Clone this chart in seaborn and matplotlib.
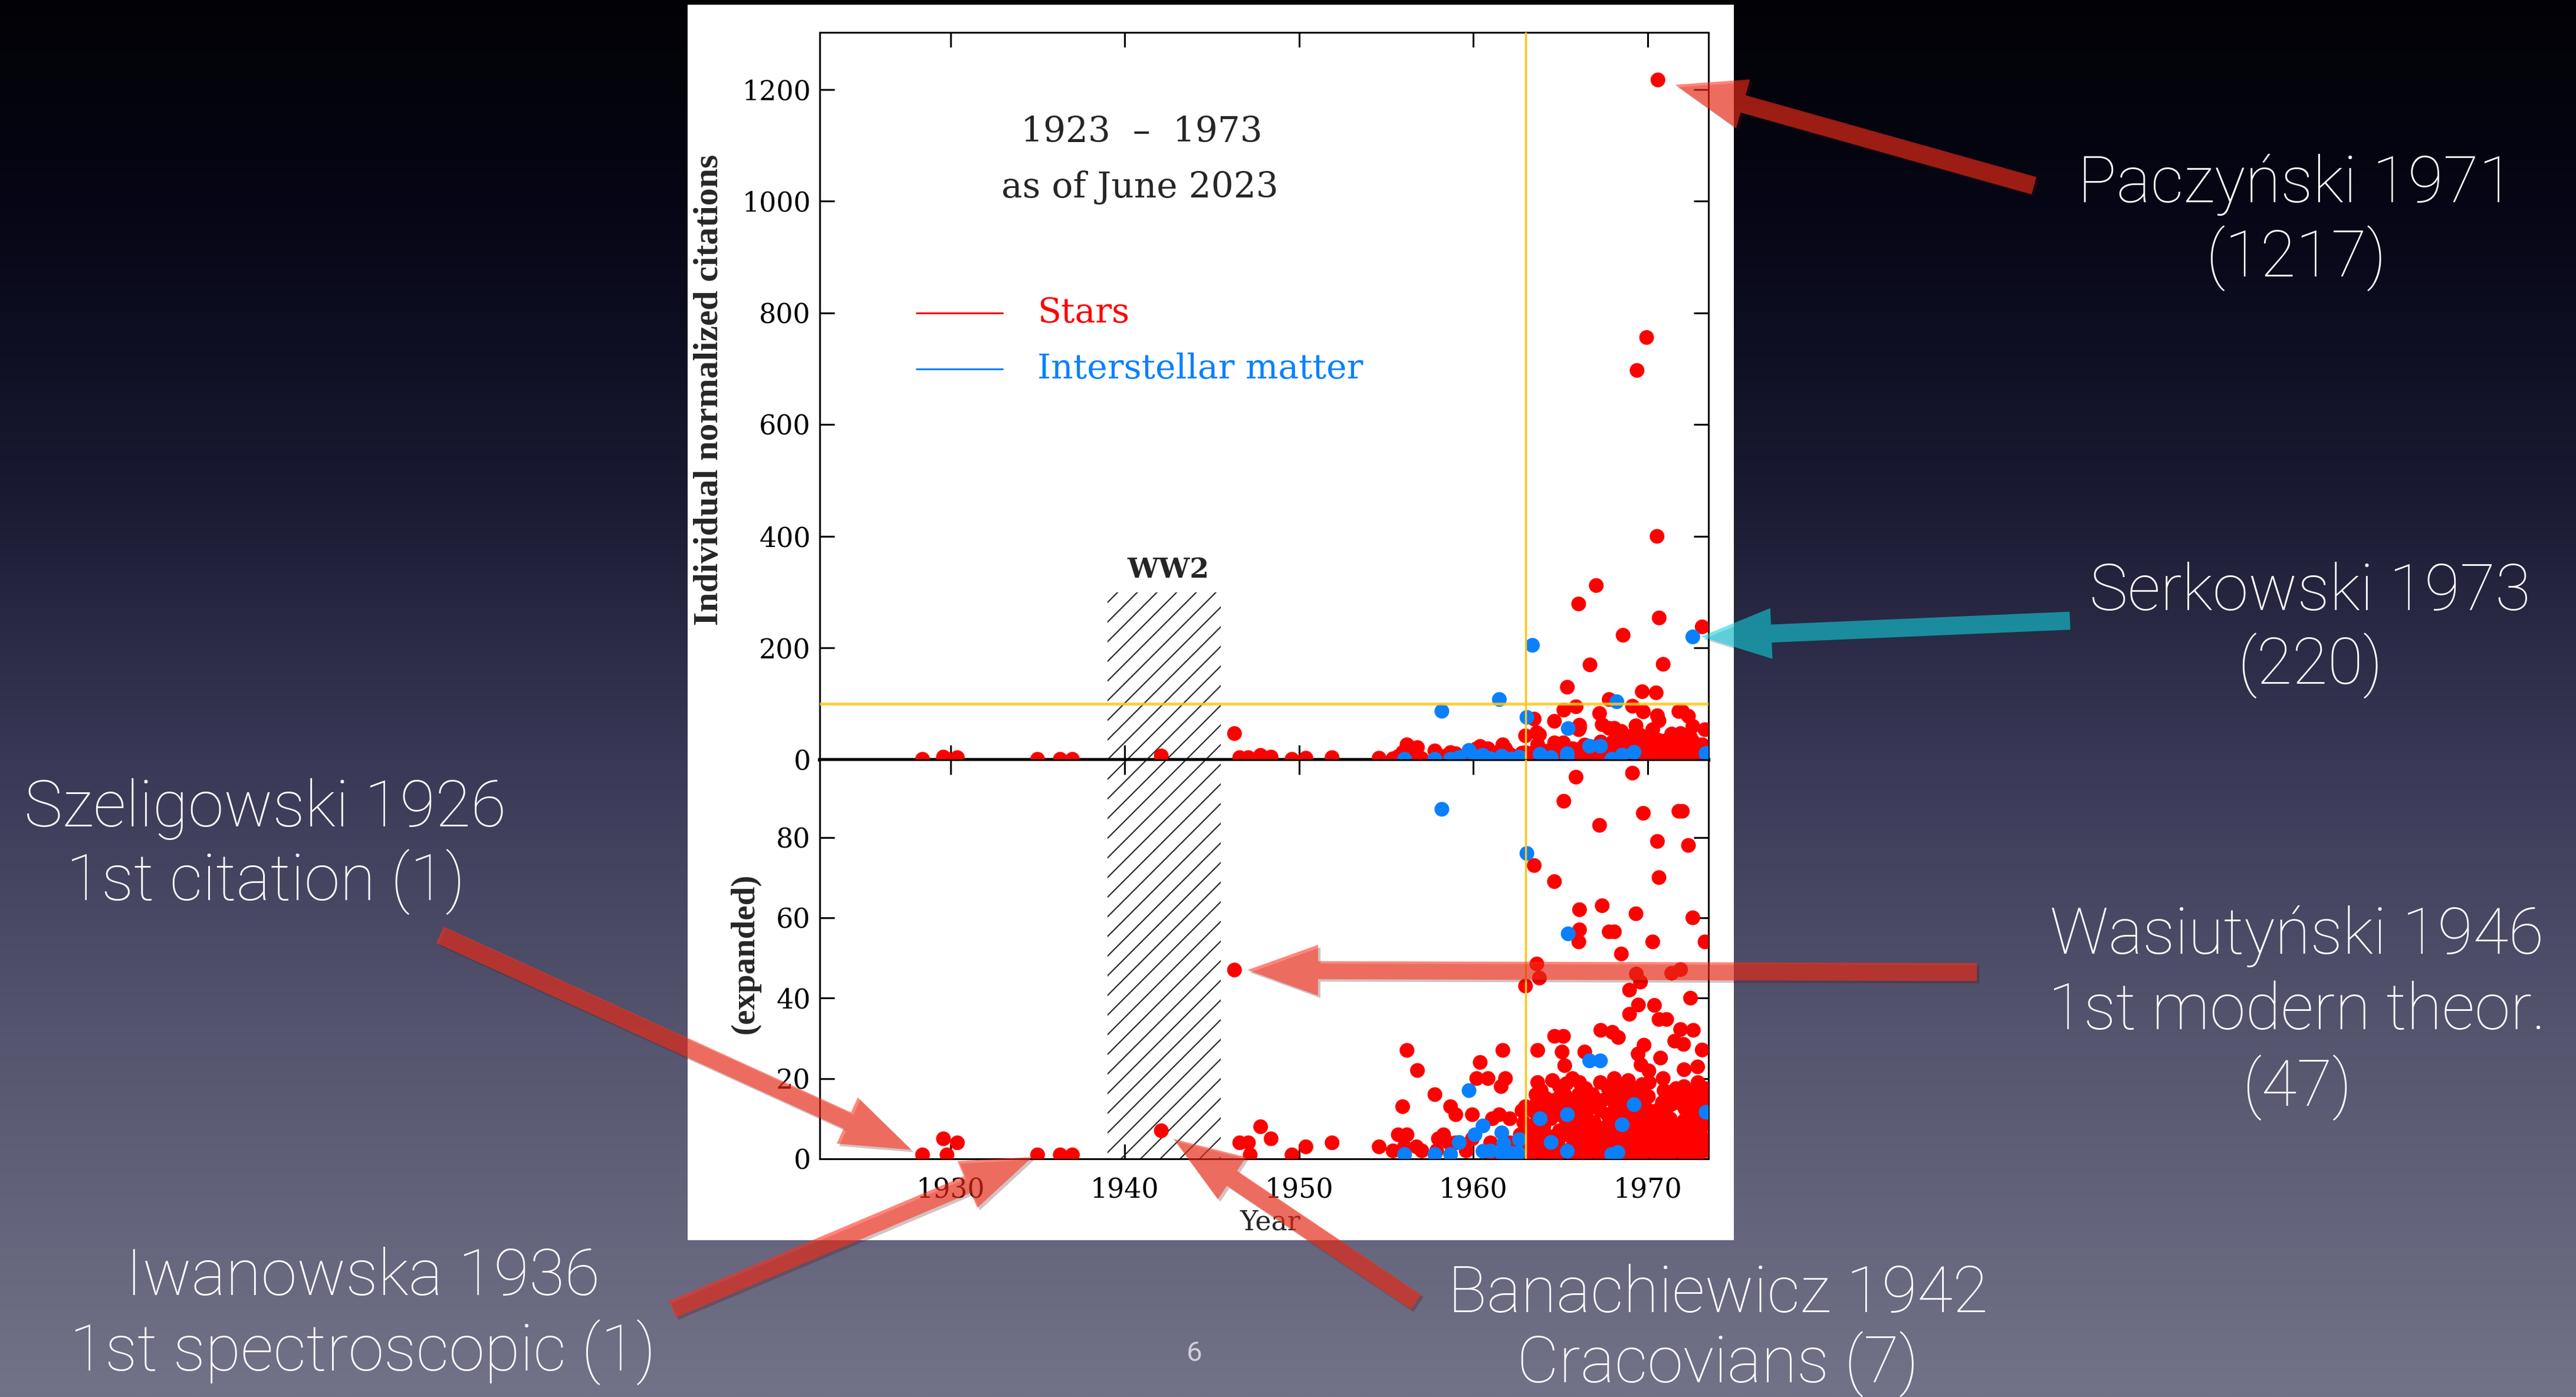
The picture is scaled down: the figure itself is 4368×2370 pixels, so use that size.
import numpy as np
import pandas as pd
import matplotlib
matplotlib.use("Agg")
import matplotlib.pyplot as plt
import seaborn as sns
from matplotlib.patches import Rectangle
from matplotlib import patheffects as pe

W, H, DPI = 4368, 2370, 100

# ---------------------------------------------------------------------------
# Individual normalized citations per paper: (publication year, citations)
# ---------------------------------------------------------------------------
stars_early = [
    (1928.4, 1), (1929.6, 5), (1929.8, 1), (1930.4, 4), (1935.0, 1), (1936.3, 1),
    (1937.0, 1), (1942.1, 7), (1946.3, 47), (1946.6, 4), (1947.1, 4), (1947.2, 1),
    (1947.8, 8), (1948.4, 5), (1949.6, 1), (1950.4, 3), (1951.9, 4), (1954.6, 3),
]

stars_1955_63 = [
    (1955.4, 2), (1955.7, 6), (1955.95, 13), (1956.2, 6), (1956.2, 27), (1956.05, 3),
    (1956.75, 3), (1956.8, 22), (1957.05, 2), (1957.8, 16), (1957.9, 2), (1958.0, 5),
    (1958.3, 6), (1958.6, 4), (1958.7, 13), (1959.0, 11), (1959.0, 4), (1959.6, 2),
    (1959.95, 11), (1959.95, 5), (1960.2, 20), (1960.4, 24), (1960.85, 20), (1961.0, 4),
    (1961.1, 1), (1961.1, 10), (1961.5, 11), (1961.6, 18), (1961.7, 27), (1961.85, 20),
    (1962.1, 10), (1962.1, 4), (1962.5, 2), (1962.8, 12), (1962.7, 6), (1962.9, 9),
    (1963.0, 43), (1963.1, 7), (1963.0, 13), (1963.2, 3),
]

stars_mid = [
    (1963.5, 73), (1963.65, 48.5), (1963.8, 45), (1963.6, 16), (1963.9, 17), (1963.7, 27),
    (1964.0, 6), (1964.66, 69), (1964.67, 30.5), (1965.18, 30.5), (1965.1, 26.6),
    (1965.25, 23.2), (1965.2, 89), (1965.9, 95), (1966.1, 62), (1966.1, 57), (1966.06, 54),
    (1966.4, 26.6), (1967.25, 83), (1967.4, 63), (1967.32, 32), (1967.99, 31.5),
    (1968.33, 30.2), (1967.8, 56.5), (1968.1, 56.5), (1968.5, 51), (1968.97, 42),
    (1968.97, 36), (1969.14, 96), (1969.34, 61), (1969.36, 46), (1969.6, 44),
    (1969.48, 38.3), (1969.76, 86), (1969.8, 28.3), (1969.46, 26.1), (1969.63, 23.4),
    (1970.08, 21.9), (1970.3, 54), (1970.4, 38.2), (1970.57, 79), (1970.66, 70),
    (1970.66, 34.7), (1970.75, 25.1), (1971.1, 34.7), (1971.39, 46.2), (1971.9, 47.1),
    (1971.8, 86.5), (1972.0, 86.5), (1971.9, 32.2), (1971.56, 29.3), (1972.07, 28.5),
    (1972.35, 78), (1972.47, 40), (1972.6, 60), (1972.63, 32), (1972.1, 22.2),
    (1972.88, 22.9), (1973.14, 27.1), (1973.3, 54),
]

stars_high = [
    (1970.6, 1217), (1969.95, 756), (1969.4, 697), (1970.55, 400), (1967.06, 312),
    (1966.05, 279), (1970.67, 254), (1973.14, 238), (1968.6, 223), (1966.7, 170),
    (1970.9, 171), (1965.4, 130), (1969.7, 122), (1970.5, 120), (1967.8, 108),
]

stars_dense = [
    (1963.3, 1), (1963.35, 4), (1963.3, 8), (1963.4, 12),
    (1963.7, 2), (1963.75, 6), (1963.7, 10), (1963.65, 14), (1963.7, 19),
    (1964.1, 1), (1964.15, 3.5), (1964.05, 8), (1964.1, 12), (1964.2, 15),
    (1964.5, 1.5), (1964.55, 5.5), (1964.45, 10), (1964.5, 13), (1964.55, 19.5),
    (1964.9, 1), (1964.85, 4), (1964.95, 7), (1964.9, 11), (1964.85, 15), (1964.95, 18),
    (1965.3, 2), (1965.25, 6), (1965.35, 9), (1965.3, 13), (1965.25, 16), (1965.35, 18.7),
    (1965.7, 1), (1965.75, 3.5), (1965.65, 7.5), (1965.7, 11), (1965.75, 14), (1965.7, 20),
    (1966.1, 1.5), (1966.05, 5), (1966.15, 9), (1966.1, 12.5), (1966.05, 16), (1966.1, 19),
    (1966.5, 1), (1966.55, 4), (1966.45, 7), (1966.5, 10.5), (1966.55, 14), (1966.45, 17.5),
    (1966.9, 2), (1966.85, 5.5), (1966.95, 9), (1966.9, 13), (1966.85, 16),
    (1967.3, 1), (1967.35, 3.5), (1967.25, 7), (1967.3, 12), (1967.35, 14.5), (1967.3, 19),
    (1967.7, 1.5), (1967.65, 5), (1967.75, 8.5), (1967.7, 11), (1967.65, 15), (1967.75, 17.5),
    (1968.1, 1), (1968.15, 4), (1968.05, 7.5), (1968.1, 10), (1968.15, 13), (1968.05, 16.5),
    (1968.1, 20),
    (1968.5, 2), (1968.45, 5), (1968.55, 11), (1968.5, 14), (1968.45, 18),
    (1968.9, 1), (1968.95, 3.5), (1968.85, 7), (1968.9, 10), (1968.95, 12.5), (1968.85, 16),
    (1968.9, 19.5),
    (1969.3, 1.5), (1969.25, 5.5), (1969.35, 8), (1969.3, 11), (1969.25, 15), (1969.35, 17),
    (1969.7, 1), (1969.75, 4), (1969.65, 7), (1969.7, 10.5), (1969.75, 13), (1969.65, 16),
    (1969.7, 18.5),
    (1970.1, 2), (1970.05, 5), (1970.15, 9), (1970.1, 12), (1970.05, 15.5), (1970.1, 19),
    (1970.5, 1), (1970.55, 3.5), (1970.45, 7), (1970.5, 10), (1970.55, 12),
    (1970.9, 1.5), (1970.85, 5), (1970.95, 8.5), (1970.9, 11), (1970.85, 14), (1970.95, 17),
    (1970.9, 20),
    (1971.3, 1), (1971.35, 4), (1971.25, 7), (1971.3, 10), (1971.35, 13.5), (1971.25, 16.5),
    (1971.7, 2), (1971.65, 5.5), (1971.75, 8), (1971.7, 14), (1971.65, 17.5),
    (1972.1, 1), (1972.15, 3.5), (1972.05, 6.5), (1972.1, 9.5), (1972.15, 12.5), (1972.05, 15),
    (1972.1, 18),
    (1972.5, 1.5), (1972.45, 5), (1972.55, 8), (1972.5, 11), (1972.45, 14), (1972.55, 16.5),
    (1972.9, 1), (1972.95, 4), (1972.85, 7), (1972.9, 10), (1972.95, 13), (1972.85, 15.5),
    (1972.9, 19),
    (1973.3, 2), (1973.35, 5), (1973.25, 8.5), (1973.3, 12), (1973.35, 15), (1973.3, 17.5),
]

ism_points = [
    (1956.06, 1.1), (1957.8, 1.1), (1958.2, 87), (1958.7, 1.1), (1959.2, 4.1), (1959.76, 17),
    (1960.1, 6), (1960.56, 8.2), (1960.56, 1.9), (1961.0, 2.0), (1961.5, 108), (1961.64, 6.5),
    (1961.75, 3.8), (1961.64, 1.4), (1962.2, 1.4), (1962.6, 1.4), (1962.65, 4.8),
    (1963.08, 76), (1963.4, 205), (1963.84, 10), (1964.47, 4.1), (1965.4, 11), (1965.4, 1.9),
    (1965.45, 56), (1966.68, 24.4), (1967.3, 24.4), (1967.95, 1.1), (1968.24, 104),
    (1968.3, 1.6), (1968.55, 8.5), (1969.23, 13.5), (1972.6, 220), (1973.36, 11.6),
]

year_ticks = [1930, 1940, 1950, 1960, 1970]
top_ticks = [0, 200, 400, 600, 800, 1000, 1200]
low_ticks = [0, 20, 40, 60, 80]

ww2_span = (1939.0, 1945.5)
cutoff_year = 1963
citation_threshold = 100

# highlighted papers (year, citations) and their callout text
callout_names = ["Paczyński 1971", "Serkowski 1973", "Szeligowski 1926",
                 "Wasiutyński 1946", "Iwanowska 1936", "Banachiewicz 1942"]
callout_notes = ["(1217)", "(220)", "1st citation (1)",
                 "1st modern theor.\n(47)", "1st spectroscopic (1)", "Cracovians (7)"]
callout_year = [1970.6, 1972.6, 1928.4, 1946.3, 1935.0, 1942.1]
callout_cites = [1217, 220, 1, 47, 1, 7]

# ---------------------------------------------------------------------------
sns.set_style("ticks")
plt.rcParams["font.family"] = ["DejaVu Serif"]
plt.rcParams["hatch.linewidth"] = 1.6

RED = "#ff0000"
BLUE = "#0a80ff"
YELLOW = "#ffc61a"
SANS = ["Roboto", "DejaVu Sans"]

rows = []
for grp in (stars_early, stars_1955_63, stars_mid, stars_high, stars_dense):
    rows += [(x, y, "Stars") for x, y in grp]
rows += [(x, y, "Interstellar matter") for x, y in ism_points]
df = pd.DataFrame(rows, columns=["year", "citations", "field"])
palette = {"Stars": RED, "Interstellar matter": BLUE}

fig = plt.figure(figsize=(W / DPI, H / DPI), dpi=DPI)

# slide background: vertical gradient plus white chart card
bg = fig.add_axes([0, 0, 1, 1])
bg.axis("off")
stops = np.array([0.0, 0.15, 0.35, 0.55, 0.75, 1.0])
cols = np.array([[2, 2, 6], [6, 6, 22], [25, 25, 50], [58, 58, 88],
                 [86, 86, 112], [114, 114, 136]]) / 255.0
t = np.linspace(0, 1, 600)
grad = np.stack([np.interp(t, stops, cols[:, k]) for k in range(3)], axis=-1)[:, None, :]
bg.imshow(grad, aspect="auto", extent=[0, 1, 0, 1], interpolation="bilinear")
bg.set_xlim(0, 1)
bg.set_ylim(0, 1)
bg.add_patch(Rectangle((1166 / W, 1 - 2104 / H), (2940 - 1166) / W, (2104 - 8) / H,
                       transform=bg.transAxes, fc="white", ec="none"))

L, WD = 1390 / W, (2897 - 1390) / W
ax_top = fig.add_axes([L, 1 - 1289 / H, WD, (1289 - 55) / H])
ax_low = fig.add_axes([L, 1 - 1966 / H, WD, (1966 - 1289) / H])

for ax, ymax, hatch_top in ((ax_top, 1302, 300), (ax_low, 99.3, 99.3)):
    ax.set_facecolor("white")
    ax.add_patch(Rectangle((ww2_span[0], 0), ww2_span[1] - ww2_span[0], hatch_top,
                           fill=False, hatch="/", ec="#2b2b2b", lw=0, zorder=1))
    sns.scatterplot(data=df, x="year", y="citations", hue="field", palette=palette,
                    s=324, linewidth=0, edgecolor="none", legend=False, ax=ax, zorder=3)
    ax.axvline(cutoff_year, color=YELLOW, lw=2.5, zorder=4)
    ax.set_xlim(1922.5, 1973.5)
    ax.set_ylim(0, ymax)
    ax.set_xticks(year_ticks)
    ax.tick_params(which="major", direction="in", length=18, width=2.2,
                   top=True, right=True, bottom=True, left=True,
                   labelsize=33, pad=11, colors="black")
    for sp in ax.spines.values():
        sp.set_visible(True)
        sp.set_linewidth(2.2)
        sp.set_color("black")
    ax.set_xlabel("")
    ax.set_ylabel("")

ax_top.axhline(citation_threshold, color=YELLOW, lw=3.5, alpha=0.85, zorder=4)
ax_top.set_yticks(top_ticks)
ax_top.tick_params(labelbottom=False)
ax_top.spines["bottom"].set_linewidth(4.5)
ax_low.set_yticks(low_ticks)
ax_low.tick_params(axis="x", pad=22)

ax_top.set_ylabel("Individual normalized citations", family="Liberation Serif",
                  weight="bold", fontsize=43, va="center")
ax_top.yaxis.set_label_coords(-0.124, 0.509)
ax_low.set_ylabel("(expanded)", family="Liberation Serif", weight="bold",
                  fontsize=41, va="center")
ax_low.yaxis.set_label_coords(-0.0843, 0.515)
ax_low.set_xlabel("Year", fontsize=33, va="center")
ax_low.xaxis.set_label_coords(0.507, -0.16)

# in-panel headings and legend
ax_top.text(1940.96, 1124, "1923  –  1973", ha="center", va="center", fontsize=43)
ax_top.text(1940.86, 1024, "as of June 2023", ha="center", va="center", fontsize=43)
ax_top.text(1942.5, 340, "WW2", ha="center", va="center", fontsize=34, weight="bold")
ax_top.plot([1928.04, 1933.0], [800, 800], color=RED, lw=2.2)
ax_top.plot([1928.04, 1933.0], [700, 700], color=BLUE, lw=2.2)
ax_top.text(1935.0, 800, "Stars", color=RED, va="center", ha="left", fontsize=42)
ax_top.text(1935.0, 700, "Interstellar matter", color=BLUE, va="center", ha="left",
            fontsize=42)

# callout arrows (tail in figure pixels, tip at the highlighted paper)
SALMON = (1.0, 0.18, 0.10)
CYAN = (0.09, 0.82, 0.88)
arrow_layout = [  # axes, tail (px from top-left), gap before the dot (pt), colour
    (ax_top, (3449, 315), 22, SALMON),
    (ax_top, (3510, 1053), 10, CYAN),
    (ax_low, (746, 1586), 15, SALMON),
    (ax_low, (3352, 1649), 16, SALMON),
    (ax_low, (1140, 2221), 7, SALMON),
    (ax_low, (2401, 2209), 18, SALMON),
]
for (ax, (tx, ty), gap, col), yr, cit in zip(arrow_layout, callout_year, callout_cites):
    ax.annotate("", xy=(yr, cit), xycoords="data", xytext=(tx, H - ty),
                textcoords="figure pixels", annotation_clip=False, zorder=10,
                arrowprops=dict(arrowstyle="simple,head_length=8.6,head_width=6.2,tail_width=2.2",
                                mutation_scale=10, fc=col, ec="none", alpha=0.58,
                                shrinkA=0, shrinkB=gap, clip_on=False,
                                path_effects=[pe.SimplePatchShadow(offset=(3, -3), alpha=0.25),
                                              pe.Normal()]))

# callout text (centre x, baselines in px from top)
text_layout = [
    (3893, [343, 470]),
    (3917, [1035, 1161]),
    (450, [1402, 1528]),
    (3895, [1618, 1746, 1877]),
    (615, [2197, 2326]),
    (2913, [2226, 2346]),
]
for (cx, baselines), name, note in zip(text_layout, callout_names, callout_notes):
    for line, by in zip([name] + note.split("\n"), baselines):
        fig.text(cx / W, 1 - by / H, line, ha="center", va="baseline", color="white",
                 fontsize=79, family=SANS, weight="light")

fig.text(2025 / W, 1 - 2296 / H, "6", ha="center", va="center", color="#cfcfd8",
         fontsize=34, family=SANS)

fig.savefig("out.png", dpi=DPI)
